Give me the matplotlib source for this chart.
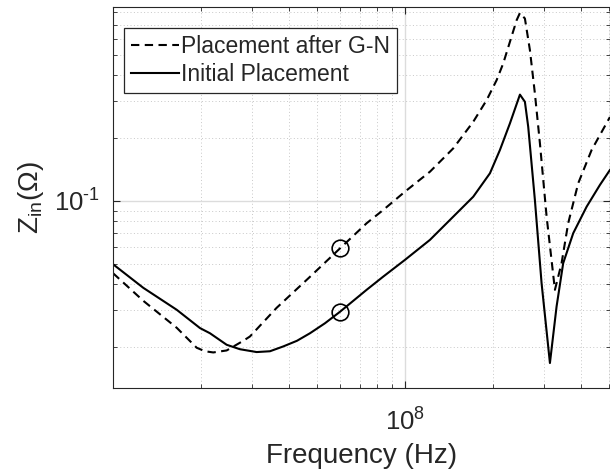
import numpy as np
import matplotlib
matplotlib.use("Agg")
import matplotlib.pyplot as plt
from matplotlib.ticker import FixedLocator, FixedFormatter, LogLocator, NullFormatter

plt.rcParams["font.family"] = ["Liberation Sans", "DejaVu Sans"]
plt.rcParams["mathtext.fontset"] = "custom"
plt.rcParams["mathtext.rm"] = "Liberation Sans"
plt.rcParams["mathtext.it"] = "Liberation Sans:italic"

# Input impedance vs frequency (Hz, Ohm)
freq_initial = [1.000e7, 1.270e7, 1.653e7, 1.986e7, 2.149e7, 2.451e7, 2.722e7, 3.105e7,
                3.449e7, 3.830e7, 4.267e7, 4.727e7, 5.321e7, 5.990e7, 7.392e7, 8.408e7,
                1.000e8, 1.218e8, 1.464e8, 1.714e8, 1.955e8, 2.115e8, 2.289e8, 2.477e8,
                2.576e8, 2.644e8, 2.787e8, 2.938e8, 3.138e8, 3.307e8, 3.484e8, 3.771e8,
                4.192e8, 4.654e8, 5.036e8]
z_initial = [0.04977, 0.03835, 0.03010, 0.02460, 0.02323, 0.02046, 0.01948, 0.01888,
             0.01905, 0.02009, 0.02138, 0.02323, 0.02594, 0.02944, 0.03752, 0.04330,
             0.05220, 0.06509, 0.08411, 0.1048, 0.1357, 0.1754, 0.2354, 0.3233,
             0.2986, 0.2268, 0.1011, 0.04038, 0.01673, 0.03121, 0.05033, 0.07006,
             0.09391, 0.1193, 0.1407]

freq_gn = [1.000e7, 1.270e7, 1.653e7, 1.935e7, 2.066e7, 2.205e7, 2.451e7, 2.794e7,
           2.945e7, 3.636e7, 4.727e7, 5.990e7, 7.392e7, 8.427e7, 1.000e8, 1.218e8,
           1.464e8, 1.714e8, 1.905e8, 2.061e8, 2.171e8, 2.413e8, 2.477e8, 2.576e8,
           2.680e8, 2.787e8, 2.900e8, 3.057e8, 3.264e8, 3.440e8, 3.624e8, 3.922e8,
           4.359e8, 5.036e8]
z_gn = [0.04508, 0.03323, 0.02468, 0.01980, 0.01905, 0.01880, 0.01922, 0.02138,
        0.02242, 0.03077, 0.04330, 0.05925, 0.07820, 0.09056, 0.1108, 0.1381,
        0.1787, 0.2396, 0.3043, 0.3793, 0.4560, 0.7345, 0.7962, 0.7485,
        0.5278, 0.3276, 0.1888, 0.08411, 0.03752, 0.05033, 0.07820, 0.1215,
        0.1754, 0.2523]

# highlighted operating point on both curves
mark_freq = [6.0e7, 6.0e7]
mark_z = [0.0598, 0.0295]

x_ticks = [1e8]
x_ticklabels = [r"$\mathregular{10^{8}}$"]
y_ticks = [1e-1]
y_ticklabels = [r"$\mathregular{10^{\text{-}1}}$"]

fig = plt.figure(figsize=(6.1, 4.7), dpi=100)
ax = fig.add_axes([113 / 610, 1 - 388 / 470, 497 / 610, 381 / 470])

ax.plot(freq_gn, z_gn, color="black", lw=1.5, ls="--", dashes=(4, 2.6), label="Placement after G-N")
ax.plot(freq_initial, z_initial, color="black", lw=1.5, label="Initial Placement")
ax.plot(mark_freq, mark_z, ls="none", marker="o", ms=12, mfc="none", mec="black", mew=1.2)

ax.set_xscale("log")
ax.set_yscale("log")
ax.set_xlim(1.0e7, 5.04e8)
ax.set_ylim(0.0127, 0.85)

ax.xaxis.set_major_locator(FixedLocator(x_ticks))
ax.yaxis.set_major_locator(FixedLocator(y_ticks))
ax.xaxis.set_major_formatter(FixedFormatter(x_ticklabels))
ax.yaxis.set_major_formatter(FixedFormatter(y_ticklabels))
ax.xaxis.set_minor_locator(LogLocator(subs=np.arange(2, 10), numticks=20))
ax.yaxis.set_minor_locator(LogLocator(subs=np.arange(2, 10), numticks=20))
ax.xaxis.set_minor_formatter(NullFormatter())
ax.yaxis.set_minor_formatter(NullFormatter())

gray = "#262626"
ax.tick_params(which="both", direction="in", top=True, right=True, colors=gray, labelsize=18.5)
ax.tick_params(which="major", length=5, width=0.8)
ax.tick_params(which="minor", length=3, width=0.6)
ax.tick_params(axis="x", pad=15)
ax.tick_params(axis="y", pad=9)
for s in ax.spines.values():
    s.set_color(gray)
    s.set_linewidth(0.8)

ax.grid(True, which="major", color="#dcdcdc", lw=1.0, ls="-")
ax.grid(True, which="minor", color="#c8c8c8", lw=0.7, ls=(0, (1, 2.5)))
ax.set_axisbelow(True)

ax.set_xlabel("Frequency (Hz)", fontsize=20, color=gray, labelpad=5)
ax.set_ylabel(r"$\mathregular{Z_{in}(\Omega)}$", fontsize=20, color=gray, labelpad=6)

leg = ax.legend(loc="upper left", bbox_to_anchor=(0.022, 0.945), fontsize=16.5,
                frameon=True, fancybox=False, edgecolor=gray, framealpha=1,
                handlelength=2.1, handletextpad=0.1, labelspacing=0.22,
                borderpad=0.3, borderaxespad=0)
leg.get_frame().set_linewidth(0.9)
for t in leg.get_texts():
    t.set_color(gray)

fig.savefig("out.png", dpi=100)
